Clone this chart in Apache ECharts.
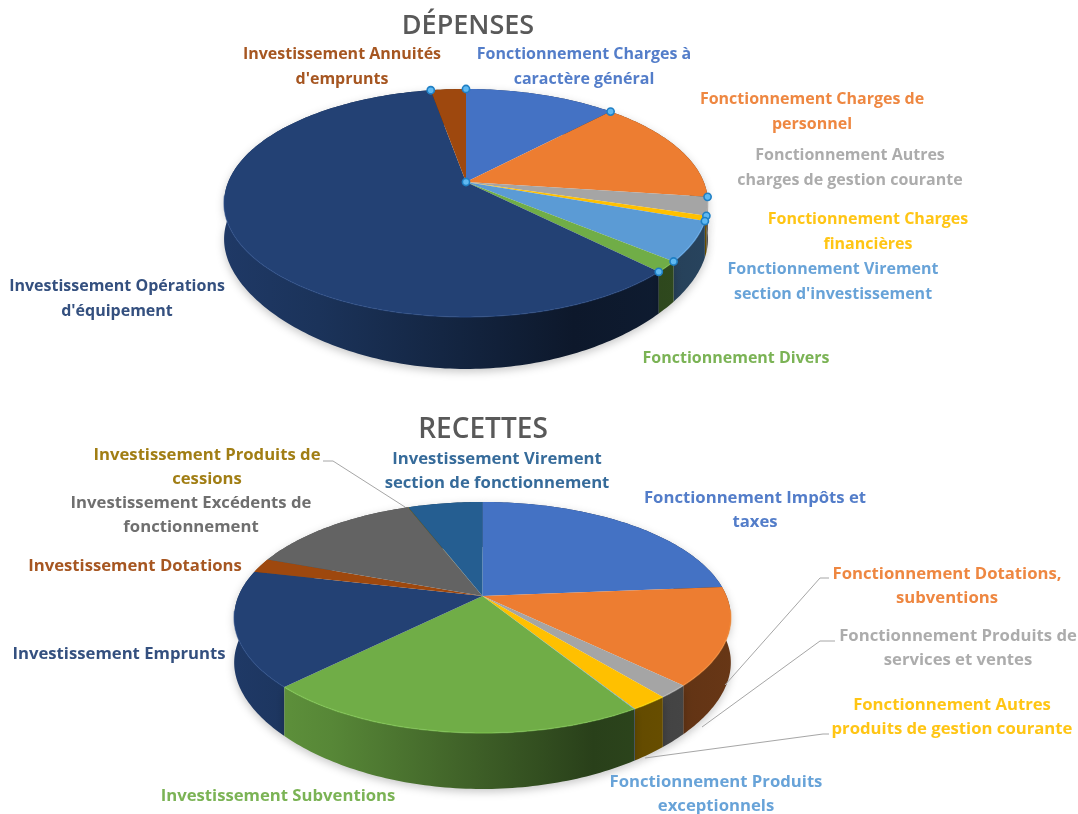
<!DOCTYPE html>
<html><head><meta charset="utf-8">
<style>html,body{margin:0;padding:0;background:#fff}#c{width:1078px;height:814px}</style>
<script src="https://cdn.jsdelivr.net/npm/echarts@6/dist/echarts.min.js"></script>
</head><body><div id="c"></div>
<script>
// ---- data ----
const depCategories = ["Fonctionnement Charges à\ncaractère général","Fonctionnement Charges de\npersonnel","Fonctionnement Autres\ncharges de gestion courante","Fonctionnement Charges\nfinancières","Fonctionnement Virement\nsection d'investissement","Fonctionnement Divers","Investissement Opérations\nd'équipement","Investissement Annuités\nd'emprunts"];
const depValues = [12.1,15,2.6,0.7,5.6,1.55,59.65,2.8];
const recCategories = ["Fonctionnement Impôts et\ntaxes","Fonctionnement Dotations,\nsubventions","Fonctionnement Produits de\nservices et ventes","Fonctionnement Autres\nproduits de gestion courante","Fonctionnement Produits\nexceptionnels","Investissement Subventions","Investissement Emprunts","Investissement Dotations","Investissement Excédents de\nfonctionnement","Investissement Produits de\ncessions","Investissement Virement\nsection de fonctionnement"];
const recValues = [23.7,13.6,1.8,2.1,0.05,21.2,16.2,2.0,13.5,0.05,5.8];
// ---- styles and layout ----
const depColors = ["#4472C4","#ED7D31","#A5A5A5","#FFC000","#5B9BD5","#70AD47","#234174","#9E480E"];
const recColors = ["#4472C4","#ED7D31","#A5A5A5","#FFC000","#5B9BD5","#70AD47","#234174","#9E480E","#636363","#997300","#255E91"];
const depLabelAt = [[584,67],[812,112],[850,168],[868,232],[833,282],[736,358],[117,299],[342,67]];
const recLabelAt = [[755,510],[947,586],[958,648],[952,717],[716,794],[278,796],[119,654],[135,566],[191,515],[207,467],[497,471]];
const recLeaders = [[[725,685],[820,578],[829,578]],[[702,727],[820,641],[835,641]],[[645,758],[823,734],[829,734]],[[405,507],[333,461],[323,461]]];
const depShape = {cx:466,cy:182,a:237.8,b:110.1,p:0.184,d:36,e:16,handles:true,leaders:[],font:16};
const recShape = {cx:482.5,cy:596,a:244,b:111.5,p:0.186,d:45,e:11,handles:false,leaders:recLeaders,font:16.7};

function shade(hex,f){
  const n=parseInt(hex.slice(1),16);
  const ch=s=>Math.round(Math.min(255,((n>>s)&255)*f));
  return `rgb(${ch(16)},${ch(8)},${ch(0)})`;
}
function makeRender(values,colors,names,labelAt,s){
  const total=values.reduce((x,y)=>x+y,0);
  const cum=[0];values.forEach(v=>cum.push(cum[cum.length-1]+v));
  const rimU=t=>Math.sin(t), rimV=t=>-Math.cos(t);
  const P=(u,v)=>{const w=1-s.p*v;return [s.cx+s.a*u/w,s.cy+s.b*v/w];};
  const rim=t=>P(rimU(t),rimV(t));
  const drop=t=>s.d+s.e*Math.pow(Math.max(0,rimV(t)),3);
  const left=s.cx-s.a*1.03,right=s.cx+s.a*1.03;
  return function(params,api){
    const i=params.dataIndex;
    const t0=cum[i]/total*2*Math.PI,t1=(cum[i]+api.value(0))/total*2*Math.PI;
    const n=Math.max(2,Math.ceil((t1-t0)/(Math.PI/180)));
    const arc=[],low=[];
    for(let k=0;k<=n;k++){
      const t=t0+(t1-t0)*k/n,p=rim(t);
      arc.push(p);low.push([p[0],p[1]+drop(t)]);
    }
    const c=colors[i],kids=[];
    const midV=rimV((t0+t1)/2);
    kids.push({type:'polygon',z2:5+midV,shape:{points:arc.concat(low.slice().reverse())},style:{
      fill:{type:'linear',global:true,x:left,y:0,x2:right,y2:0,colorStops:[
        {offset:0,color:shade(c,.88)},{offset:.2,color:shade(c,.78)},{offset:.45,color:shade(c,.58)},
        {offset:.72,color:shade(c,.37)},{offset:1,color:shade(c,.44)}]},
      shadowBlur:9,shadowColor:'rgba(0,0,0,.22)',shadowOffsetY:3}});
    kids.push({type:'polygon',z2:10,shape:{points:[P(0,0)].concat(arc)},style:{fill:c}});
    const front=arc.filter(p=>p[1]>s.cy+s.b*0.12);
    if(front.length>1) kids.push({type:'polyline',z2:11,shape:{points:front},style:{stroke:shade(c,1.18),lineWidth:1.5,opacity:.55,fill:'none'}});
    kids.push({type:'text',z2:40,style:{text:names[i],x:labelAt[i][0],y:labelAt[i][1],align:'center',verticalAlign:'middle',
      fontFamily:'"Open Sans"',fontWeight:'bold',fontSize:s.font,lineHeight:24.5,fill:c,opacity:.92}});
    if(s.handles){
      [rim(t0)].concat(i===0?[P(0,0)]:[]).forEach(p=>kids.push({type:'circle',z2:30,shape:{cx:p[0],cy:p[1],r:3.6},style:{fill:'#5FB9F2',stroke:'#1F7FC4',lineWidth:1.6}}));
    }
    if(i===0) s.leaders.forEach(pts=>kids.push({type:'polyline',z2:20,shape:{points:pts},style:{stroke:'#A6A6A6',lineWidth:1,fill:'none'}}));
    return {type:'group',children:kids};
  };
}
const series=[
  {name:'DÉPENSES',type:'custom',coordinateSystem:'none',silent:true,animation:false,clip:false,
   data:depValues.map((v,i)=>({name:depCategories[i],value:[v]})),
   renderItem:makeRender(depValues,depColors,depCategories,depLabelAt,depShape)},
  {name:'RECETTES',type:'custom',coordinateSystem:'none',silent:true,animation:false,clip:false,
   data:recValues.map((v,i)=>({name:recCategories[i],value:[v]})),
   renderItem:makeRender(recValues,recColors,recCategories,recLabelAt,recShape)}
];
const chart=echarts.init(document.getElementById('c'),null,{renderer:'canvas'});
const titleStyle={fontFamily:'"Open Sans"',fontWeight:600,fontSize:27,color:'#595959'};
chart.setOption({backgroundColor:'#fff',animation:false,
  title:[{text:'DÉPENSES',left:468,top:26,textAlign:'center',textVerticalAlign:'middle',textStyle:titleStyle,padding:0},
         {text:'RECETTES',left:483,top:430,textAlign:'center',textVerticalAlign:'middle',textStyle:{...titleStyle,fontSize:28},padding:0}],
  series});
</script></body></html>
